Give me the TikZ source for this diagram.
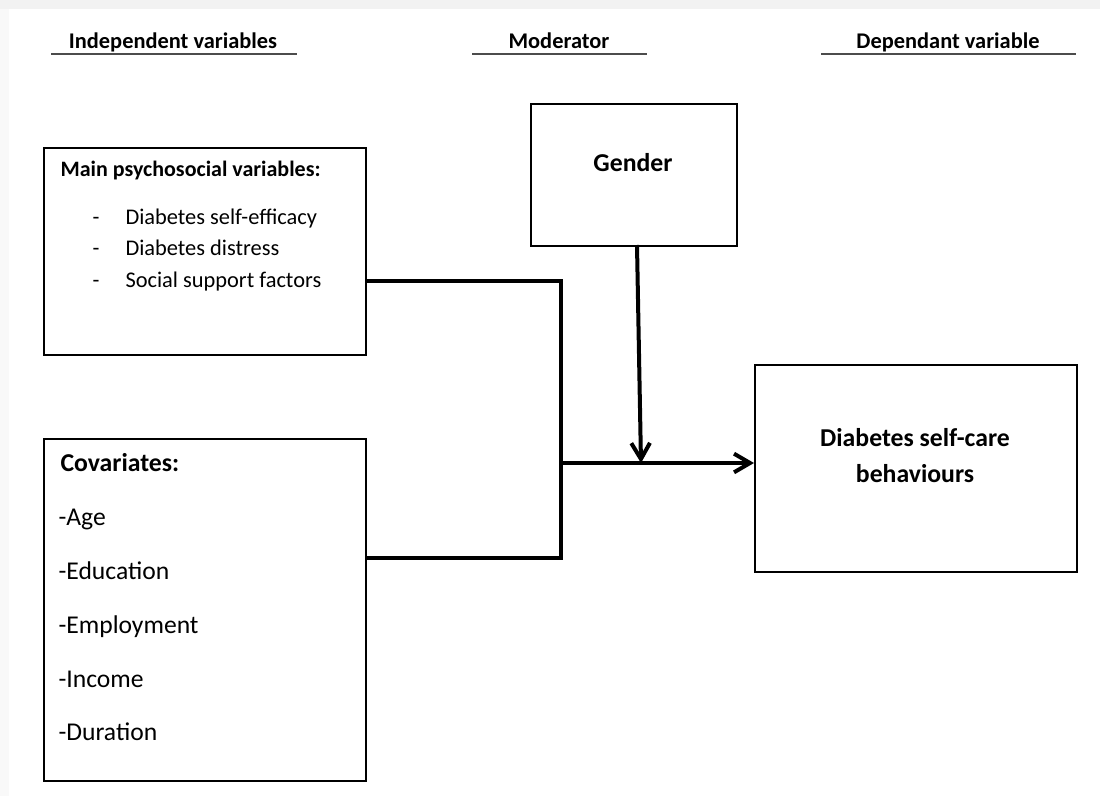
\documentclass[tikz,border=0pt]{standalone}
\usepackage{fontspec}
\setmainfont{Carlito}
\usetikzlibrary{arrows.meta}
\begin{document}
\begin{tikzpicture}[x=0.75pt, y=-0.75pt, thick, >={Straight Barb[length=12pt,width=14pt]}]
  \tikzstyle{box} = [rectangle, draw, line width=1.6pt, anchor=north west, inner sep=0pt]
  \tikzstyle{head} = [font=\fontsize{16.8}{20}\selectfont\bfseries, anchor=base, inner sep=0pt]
  \tikzstyle{title} = [font=\fontsize{16.5}{20}\selectfont\bfseries, anchor=base west, inner sep=0pt]
  \tikzstyle{bigtitle} = [font=\fontsize{19.3}{23}\selectfont\bfseries, anchor=base, inner sep=0pt]
  \tikzstyle{entry} = [font=\fontsize{16.8}{20}\selectfont, anchor=base west, inner sep=0pt]
  \tikzstyle{cov} = [font=\fontsize{19.2}{23}\selectfont, anchor=base west, inner sep=0pt]
  \tikzstyle{rule} = [draw, line width=1.5pt, black!70]
  \tikzstyle{line} = [draw, line width=3pt]

  \useasboundingbox (0,0) rectangle (1100,796);
  \fill [gray!10] (0,0) rectangle (1100,9);
  \fill [gray!5] (0,9) rectangle (9,796);

  % headings
  \node [head] (indep) at (173,48) {Independent variables};
  \node [head] (moder) at (559,48) {Moderator};
  \node [head] (depen) at (948,48) {Dependant variable};
  \path [rule] (51,54) -- (297,54);
  \path [rule] (472,54) -- (647,54);
  \path [rule] (821,54) -- (1076,54);

  % boxes
  \node [box, minimum width=241.5pt, minimum height=155.25pt] (main) at (43,147) {};
  \node [box, minimum width=241.5pt, minimum height=256.5pt] (covar) at (43,438) {};
  \node [box, minimum width=154.5pt, minimum height=106.5pt] (gender) at (530,103) {};
  \node [box, minimum width=241.5pt, minimum height=155.25pt] (care) at (754,364) {};

  % box texts
  \node [title] (maint) at (60,176) {Main psychosocial variables:};
  \node [entry] (d1) at (92,224) {-};
  \node [entry] (d2) at (92,255) {-};
  \node [entry] (d3) at (92,287) {-};
  \node [entry] (m1) at (125,224) {Diabetes self-efficacy};
  \node [entry] (m2) at (125,255) {Diabetes distress};
  \node [entry] (m3) at (125,287) {Social support factors};

  \node [bigtitle, anchor=base west] (covt) at (60,471) {Covariates:};
  \node [cov] (c1) at (58,525) {-Age};
  \node [cov] (c2) at (58,579) {-Education};
  \node [cov] (c3) at (58,633) {-Employment};
  \node [cov] (c4) at (58,687) {-Income};
  \node [cov] (c5) at (58,740) {-Duration};

  \node [bigtitle] (gent) at (633,171) {Gender};
  \node [bigtitle] (care1) at (915,446) {Diabetes self-care};
  \node [bigtitle] (care2) at (915,482) {behaviours};

  % connectors
  \coordinate (top) at (561,281);
  \coordinate (bot) at (561,558);
  \coordinate (mid) at (561,463);
  \coordinate (hit) at (641,463);
  \path [line] (main.east |- top) -- (top) -- (bot) -- (covar.east |- bot);
  \path [line, ->] (mid) -- (care.west |- mid);
  \path [line, ->] (637,245) -- (hit);
\end{tikzpicture}
\end{document}
